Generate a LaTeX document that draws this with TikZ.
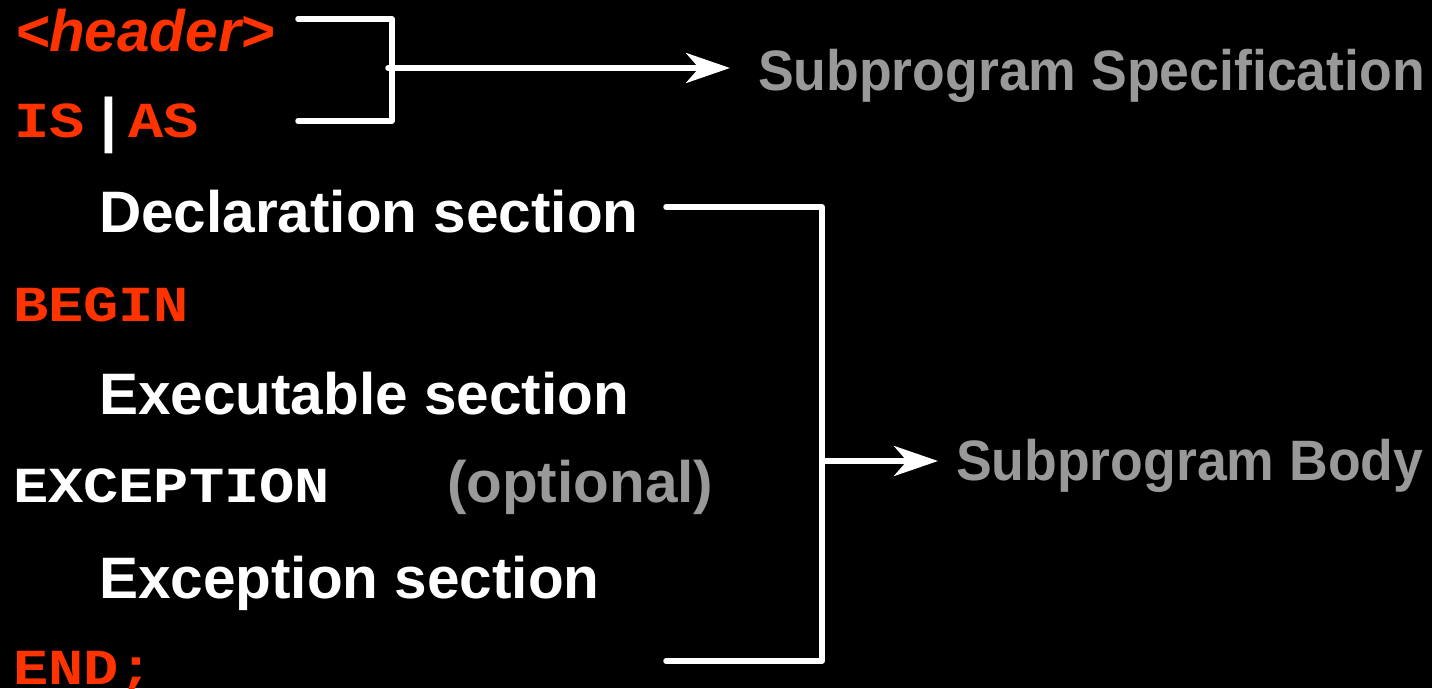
\documentclass[tikz,border=0pt]{standalone}
\usepackage{graphicx}
\usepackage{fontspec}
\setmainfont{Liberation Sans}
\newfontfamily\codefont{Liberation Mono}
\usetikzlibrary{arrows.meta}
\definecolor{kwred}{HTML}{FF3300}
\definecolor{notegray}{HTML}{999999}
% narrower label text and lower keyword text
\newcommand{\narrowtext}[1]{\scalebox{0.94}[1]{#1}}
\newcommand{\kw}[1]{\scalebox{1}[0.86]{#1}}

\begin{document}
\begin{tikzpicture}[x=1pt,y=-1pt,
  txt/.style={inner sep=0pt, outer sep=0pt, anchor=base west},
  sans/.style={txt, font=\fontsize{58.5}{60}\selectfont\bfseries, text=white},
  note/.style={sans, text=notegray},
  label/.style={txt, font=\fontsize{57}{60}\selectfont\bfseries, text=notegray},
  code/.style={txt, font=\fontsize{58.7}{60}\selectfont\codefont\bfseries, text=kwred},
  codewhite/.style={code, text=white},
  brace/.style={draw=white, line width=5.5pt, line cap=round, line join=round},
  pointer/.style={brace, -{Stealth[length=44pt, width=30pt, inset=13pt]}}
  ]
  % page
  \fill[black] (0,0) rectangle (1432,688);
  \useasboundingbox (0,0) rectangle (1432,688);

  % program skeleton
  \node[code, font=\fontsize{58.5}{60}\selectfont\bfseries\itshape] (hdr) at (15,51) {<header>};
  \node[code] (is) at (14,137) {\kw{IS}};
  \node[sans, font=\fontsize{60}{60}\selectfont\bfseries] (bar) at (100,140) {|};
  \node[code] (as) at (128,137) {\kw{AS}};
  \node[sans] (decl) at (99,232) {Declaration section};
  \node[code] (begin) at (13,321) {\kw{BEGIN}};
  \node[sans] (exec) at (99,414) {Executable section};
  \node[codewhite] (exc) at (13,502) {\kw{EXCEPTION}};
  \node[note] (opt) at (447,502) {(optional)};
  \node[sans] (excs) at (99,598) {Exception section};
  \node[code] (end) at (13,684) {\kw{END;}};

  % labels on the right
  \node[label] (spec) at (758,90) {\narrowtext{Subprogram Specification}};
  \node[label] (body) at (956,480) {\narrowtext{Subprogram Body}};

  % specification bracket
  \coordinate (sa) at (298,19);
  \coordinate (sb) at (298,121);
  \coordinate (sc) at (392,19);
  \coordinate (sd) at (392,121);
  \coordinate (sj) at (388,68);
  \draw[brace] (sa) -- (sc) -- (sd) -- (sb);
  \draw[pointer] (sj) -- (sj -| spec.west) [shorten >=28pt];

  % body bracket
  \coordinate (ba) at (666,207);
  \coordinate (bb) at (666,661);
  \coordinate (bc) at (822,207);
  \coordinate (bd) at (822,661);
  \coordinate (bj) at (822,461);
  \draw[brace] (ba) -- (bc) -- (bd) -- (bb);
  \draw[pointer] (bj) -- (bj -| body.west) [shorten >=18pt];
\end{tikzpicture}
\end{document}
